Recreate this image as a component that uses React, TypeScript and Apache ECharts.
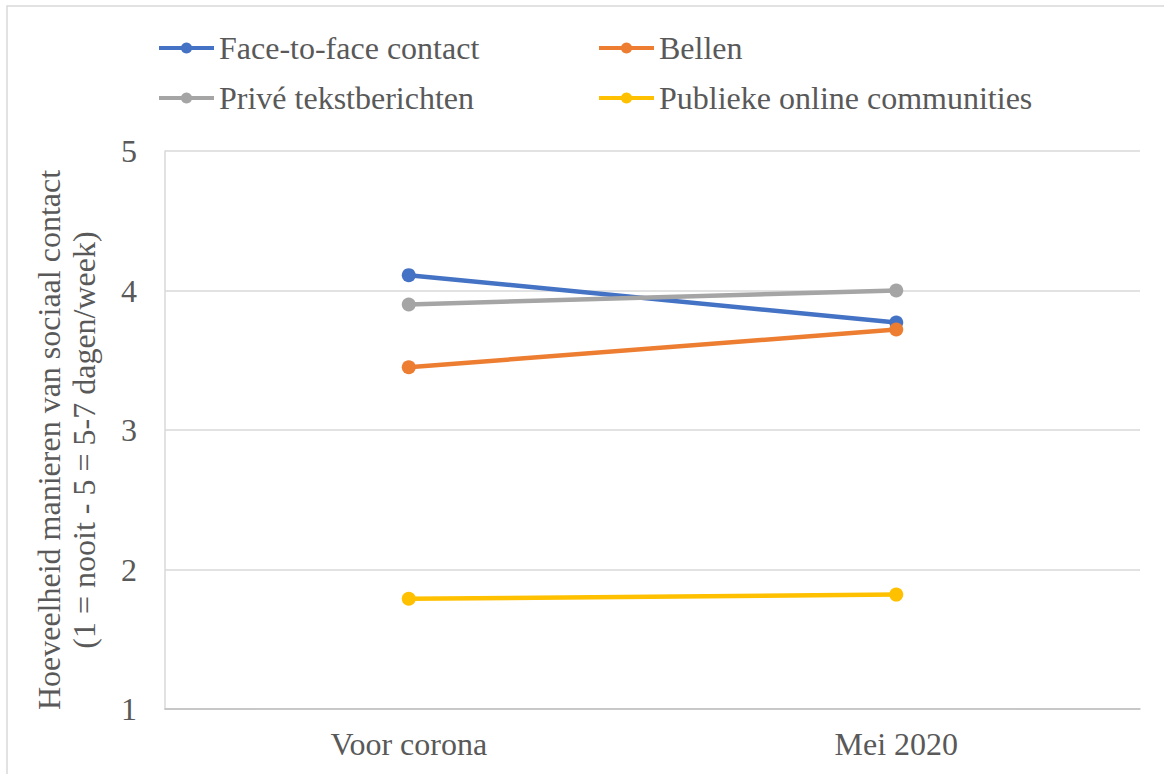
import React, { useEffect, useRef } from "react";
import * as echarts from "echarts";

const categories = ["Voor corona", "Mei 2020"];
const faceToFace = [4.11, 3.77];
const bellen = [3.45, 3.72];
const priveTekst = [3.9, 4.0];
const publiekeOnline = [1.79, 1.82];
const yTicks = { min: 1, max: 5, interval: 1 };

const seriesNames = [
  "Face-to-face contact",
  "Bellen",
  "Privé tekstberichten",
  "Publieke online communities",
];
const seriesData = [faceToFace, bellen, priveTekst, publiekeOnline];
const seriesColors = ["#4472C4", "#ED7D31", "#A5A5A5", "#FFC000"];

const FONT = "Liberation Serif";
const TEXT = "#595959";

export default function App() {
  const ref = useRef<HTMLDivElement>(null);
  useEffect(() => {
    document.body.style.margin = "0";
    if (!ref.current) return;
    const chart = echarts.init(ref.current, undefined, { renderer: "svg" });
    const legendBase = {
      orient: "vertical",
      top: 27,
      padding: 5,
      itemWidth: 55,
      itemHeight: 14,
      itemGap: 18,
      selectedMode: false,
      lineStyle: { width: 4 },
      textStyle: { fontFamily: FONT, fontSize: 32, color: TEXT, lineHeight: 32 },
    };
    chart.setOption({
      animation: false,
      backgroundColor: "#ffffff",
      textStyle: { fontFamily: FONT },
      graphic: [
        {
          type: "rect",
          shape: { x: 7, y: 6, width: 1300, height: 900 },
          style: { fill: "none", stroke: "#d9d9d9", lineWidth: 1.5 },
          silent: true,
        },
      ],
      legend: [
        { ...legendBase, left: 152, data: [seriesNames[0], seriesNames[2]] },
        { ...legendBase, left: 592, data: [seriesNames[1], seriesNames[3]] },
      ],
      grid: { left: 165, top: 151, right: 24, bottom: 65, containLabel: false },
      xAxis: {
        type: "category",
        data: categories,
        boundaryGap: true,
        axisLine: { show: true, lineStyle: { color: "#bfbfbf", width: 1.5 } },
        axisTick: { show: false },
        axisLabel: { fontFamily: FONT, fontSize: 32, color: TEXT, margin: 19 },
        splitLine: { show: false },
      },
      yAxis: {
        type: "value",
        min: yTicks.min,
        max: yTicks.max,
        interval: yTicks.interval,
        name: "Hoeveelheid manieren van sociaal contact\n(1 = nooit - 5 = 5-7 dagen/week)",
        nameLocation: "middle",
        nameRotate: 90,
        nameGap: 64,
        nameTextStyle: {
          fontFamily: FONT,
          fontSize: 32,
          color: TEXT,
          lineHeight: 35,
          align: "center",
          padding: [0, 20, 0, 0],
        },
        axisLine: { show: true, lineStyle: { color: "#d9d9d9", width: 1.5 } },
        axisTick: { show: false },
        axisLabel: { fontFamily: FONT, fontSize: 32, color: TEXT, margin: 28 },
        splitLine: { show: true, lineStyle: { color: "#d9d9d9", width: 1.5 } },
      },
      series: seriesNames.map((name, i) => ({
        name,
        type: "line",
        data: seriesData[i],
        symbol: "circle",
        symbolSize: 14,
        showSymbol: true,
        color: seriesColors[i],
        lineStyle: { width: 4.5, color: seriesColors[i] },
        itemStyle: { color: seriesColors[i] },
      })),
    });
    return () => chart.dispose();
  }, []);
  return <div ref={ref} style={{ width: 1164, height: 774 }} />;
}
